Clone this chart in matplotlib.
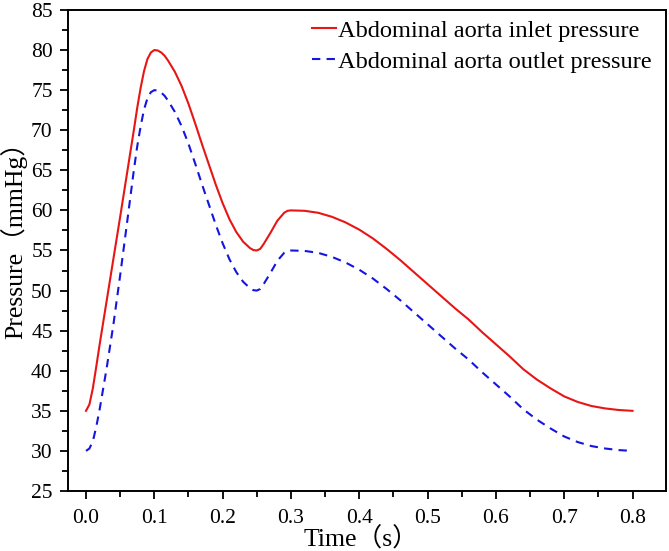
import numpy as np
import matplotlib
matplotlib.use('Agg')
import matplotlib.pyplot as plt
from matplotlib.ticker import MultipleLocator

plt.rcParams['font.family'] = ['Liberation Serif', 'Noto Sans CJK SC']

# time (s)
time = [0.000, 0.005, 0.010, 0.015, 0.020, 0.030, 0.040, 0.050, 0.060, 0.070,
        0.075, 0.080, 0.085, 0.090, 0.095, 0.100, 0.105, 0.110, 0.115, 0.120,
        0.130, 0.140, 0.150, 0.160, 0.170, 0.180, 0.190, 0.200, 0.210, 0.220,
        0.230, 0.240, 0.245, 0.250, 0.255, 0.260, 0.270, 0.280, 0.290, 0.295,
        0.300, 0.320, 0.340, 0.360, 0.380, 0.400, 0.420, 0.440, 0.460, 0.480,
        0.500, 0.520, 0.540, 0.560, 0.580, 0.600, 0.620, 0.640, 0.660, 0.680,
        0.700, 0.720, 0.740, 0.760, 0.780, 0.800]

# inlet pressure (mmHg)
inlet = [35.0, 35.8, 37.8, 40.5, 43.3, 48.6, 53.9, 59.2, 64.6, 70.0,
         72.8, 75.3, 77.4, 78.9, 79.7, 80.0, 79.95, 79.7, 79.3, 78.7,
         77.3, 75.5, 73.3, 70.8, 68.2, 65.7, 63.2, 60.9, 58.9, 57.3,
         56.1, 55.3, 55.05, 55.0, 55.2, 55.8, 57.2, 58.7, 59.7, 59.95,
         60.0, 59.95, 59.7, 59.2, 58.5, 57.6, 56.5, 55.2, 53.8, 52.3,
         50.8, 49.3, 47.8, 46.4, 44.8, 43.3, 41.8, 40.2, 38.9, 37.8,
         36.8, 36.1, 35.6, 35.3, 35.1, 35.0]

# outlet pressure (mmHg)
outlet = [30.0, 30.3, 31.2, 33.0, 35.2, 40.2, 45.7, 51.9, 58.4, 65.0,
          68.0, 70.5, 72.6, 74.0, 74.75, 75.0, 74.95, 74.7, 74.3, 73.7,
          72.3, 70.5, 68.3, 65.8, 63.2, 60.7, 58.2, 55.9, 53.9, 52.3,
          51.1, 50.3, 50.05, 50.0, 50.2, 50.8, 52.2, 53.7, 54.7, 54.95,
          55.0, 54.95, 54.7, 54.2, 53.5, 52.6, 51.5, 50.2, 48.8, 47.3,
          45.8, 44.3, 42.8, 41.4, 39.8, 38.3, 36.8, 35.2, 33.9, 32.8,
          31.8, 31.1, 30.6, 30.3, 30.1, 30.0]

xtick_vals = [0.0, 0.1, 0.2, 0.3, 0.4, 0.5, 0.6, 0.7, 0.8]
xtick_labels = ['0.0', '0.1', '0.2', '0.3', '0.4', '0.5', '0.6', '0.7', '0.8']

fig = plt.figure(figsize=(6.69, 5.51), dpi=100)
ax = fig.add_axes([0.1016, 0.1089, 0.8939, 0.873])

ax.plot(time, inlet, color='#e81515', lw=1.5, label='Abdominal aorta inlet pressure')
ax.plot(time, outlet, color='#1515e0', lw=1.5, linestyle=(0, (4, 3)),
        label='Abdominal aorta outlet pressure')

ax.set_xlim(-0.0264, 0.849)
ax.set_ylim(25, 85)
ax.set_xticks(xtick_vals)
ax.set_xticklabels(xtick_labels)
ax.xaxis.set_minor_locator(MultipleLocator(0.05))
ax.yaxis.set_major_locator(MultipleLocator(5))
ax.yaxis.set_minor_locator(MultipleLocator(2.5))

ax.tick_params(which='major', direction='out', length=6, width=1.3, labelsize=15.5, pad=5)
ax.tick_params(which='minor', direction='out', length=4, width=1.3)
ax.tick_params(axis='x', which='major', pad=7)
for s in ax.spines.values():
    s.set_linewidth(1.4)

ax.set_xlabel('Time（s）', fontsize=18.5, va='baseline')
ax.xaxis.set_label_coords(0.49, -0.115)
ax.set_ylabel('Pressure（mmHg）', fontsize=18.5)
ax.yaxis.set_label_coords(-0.068, 0.535)

ax.legend(loc='upper right', frameon=False, fontsize=17.6, handlelength=1.0,
          handletextpad=0.05, borderaxespad=0.2, labelspacing=0.35,
          bbox_to_anchor=(1.0, 1.01))

fig.savefig('out.png', dpi=100)
